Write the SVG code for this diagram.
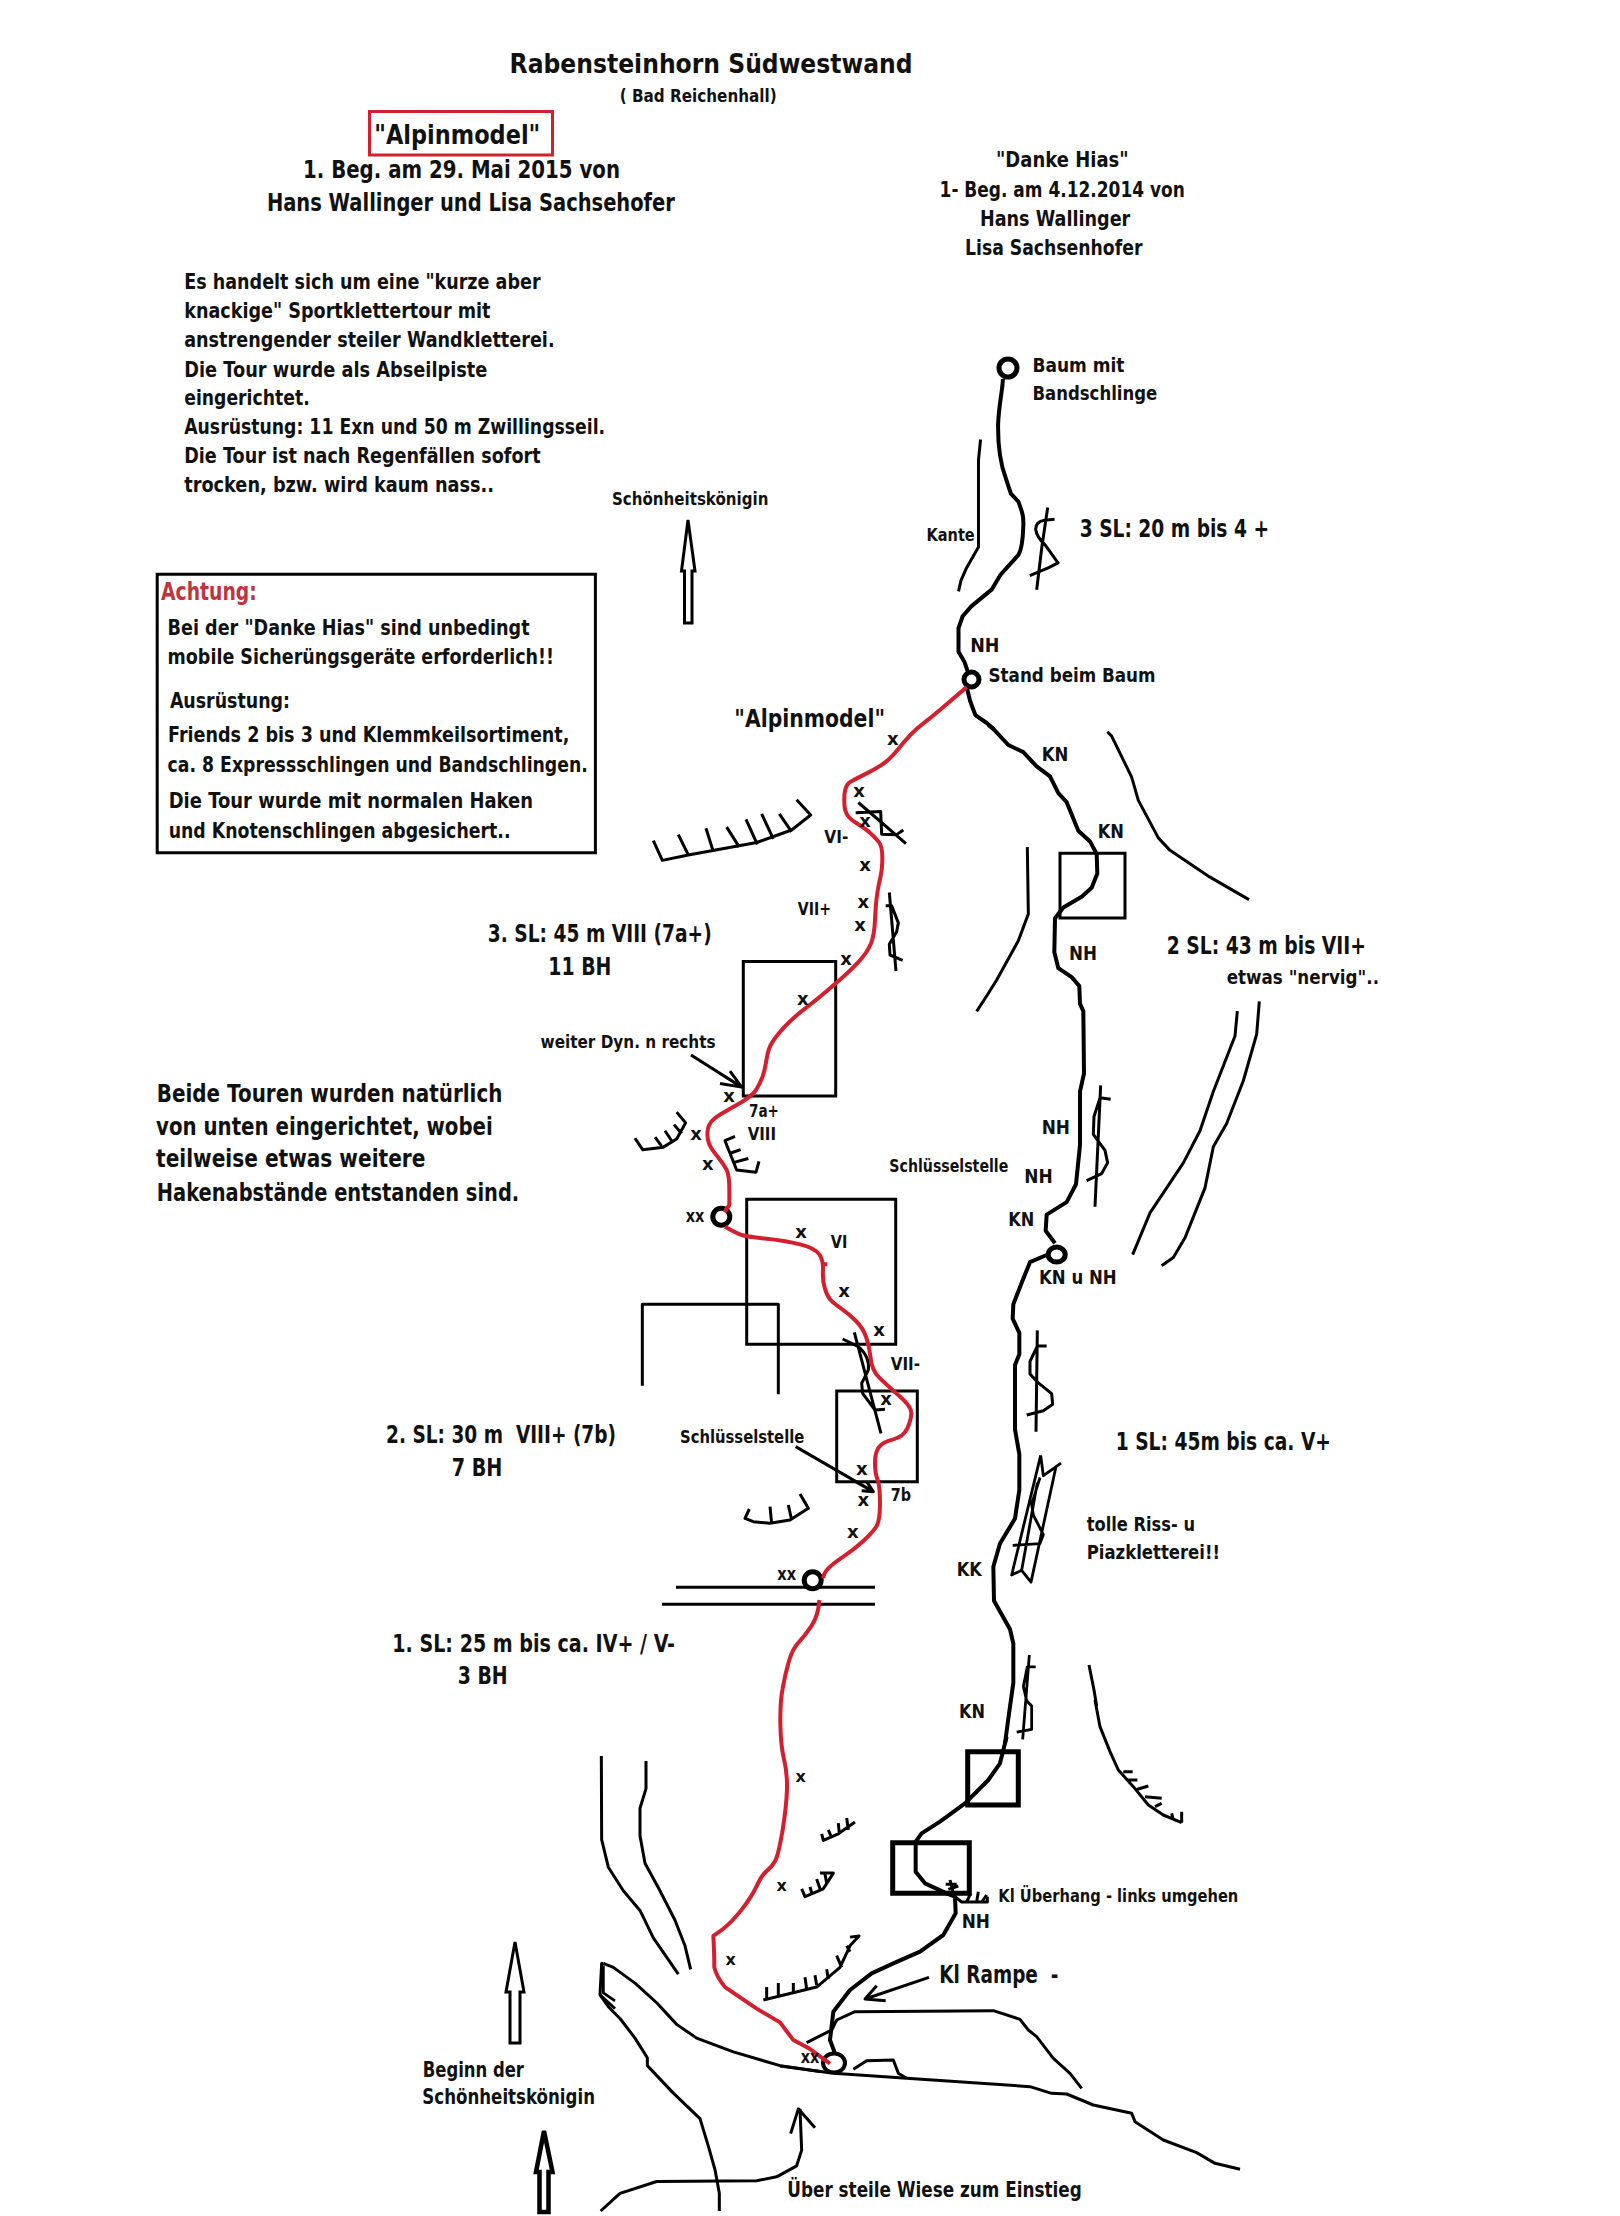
<svg xmlns="http://www.w3.org/2000/svg" width="1620" height="2216" viewBox="0 0 1620 2216">
<style>
path,circle,rect,ellipse,polygon{vector-effect:non-scaling-stroke}
path{fill:none;stroke:#000;stroke-linejoin:round;stroke-linecap:butt}
.r{stroke-width:4}
.t{stroke-width:3}
.f{stroke-width:2.8}
.red{stroke:#d4202e;stroke-width:4}
.box{fill:none;stroke:#000;stroke-width:3}
.heavy{fill:none;stroke:#000;stroke-width:5}
.ring{fill:#fff;stroke:#000;stroke-width:5}
.arw{fill:#fff;stroke:#000;stroke-width:3}
text{font-family:"DejaVu Sans","Liberation Sans",sans-serif;font-weight:700;fill:#111}
.s16{font-size:16px}.s18{font-size:18px}.s20{font-size:20px}.s21{font-size:21px}.s24{font-size:24px}.s26{font-size:26px}
</style>
<rect width="1620" height="2216" fill="#fff"/>

<g id="rock-features">
<g transform="matrix(.33333 0 0 .35714 620 680)">
<path class="t" d="M100,450 L127,505 L205,490 L410,455 L515,420 L572,378 L530,335 M175,433 L205,490 M258,415 L278,475 M320,412 L358,468 M378,390 L412,460 M425,375 L460,445 M478,375 L515,425"/>
<path class="t" d="M715,343 L858,458 M707,372 L782,368 L785,432 L830,433 L850,420"/>
<path class="t" d="M808,595 L828,815 M797,632 L815,632 L835,680 L830,705 L808,740 L810,770 L848,785"/>
<path class="t" d="M45,1283 L68,1315 L130,1308 L170,1285 L197,1240 L170,1210 M105,1280 L125,1305 M135,1262 L155,1290 M162,1245 L185,1270"/>
<path class="t" d="M345,1278 L315,1290 L350,1372 L408,1378 L417,1348 M330,1325 L362,1315 M345,1350 L385,1340"/>
<path class="t" d="M1222,468 L1225,655 L1195,730 L1130,840 L1100,885 L1070,928"/>
</g>
<g transform="matrix(.34435 0 0 .39541 880 120)">
<path class="t" d="M292,808 L286,860 L286,1080 L250,1135 L235,1165 L228,1192"/>
<path class="t" d="M487,980 L470,1080 L455,1188 M507,1010 L478,1012 Q452,1015 452,1035 Q455,1055 480,1075 L517,1120 L490,1132 L435,1152"/>
</g>
<g transform="matrix(.33333 0 0 .35714 950 720)">
<path class="t" d="M472,33 L485,45 L545,160 L565,225 L625,330 L660,365 L780,440 L897,503"/>
<path class="t" d="M862,815 L855,885 L790,1040 L750,1150 L700,1240 L650,1310 L600,1380 L548,1497"/>
<path class="t" d="M928,788 L920,880 L880,1010 L830,1130 L790,1195 L765,1310 L705,1450 L670,1505 L635,1528"/>
<path class="t" d="M452,1023 L435,1363 M482,1062 L450,1058 L432,1110 L430,1160 L465,1205 L473,1240 L455,1270 L410,1290"/>
</g>
<g transform="matrix(.33333 0 0 .35714 950 1240)">
<path class="t" d="M262,253 L258,537 M290,297 L262,297 L240,340 L240,375 L265,400 L305,430 L308,460 L280,478 L230,490"/>
<path class="f" d="M272,603 L185,938 L215,925 L243,958 L318,635 L280,660 L272,603 M333,625 L280,660 M270,665 L245,740 L250,770 L280,825 L270,850 L188,855 M262,680 L215,925"/>
<path class="f" d="M238,1162 L218,1398 M257,1195 L232,1195 L220,1250 L230,1290 L245,1305 L245,1370 L200,1378"/>
<path class="t" d="M417,1190 L432,1260 L440,1305"/>
</g>
<g transform="matrix(.33333 0 0 .33333 620 1180)">
<path class="t" d="M67,617 L67,373 L475,373 L475,643"/>
<path class="t" d="M168,1222 L765,1222 M126,1273 L765,1273"/>
<path class="t" d="M388,987 L375,1015 L400,1025 L450,1030 L510,1020 L565,985 L540,942 M450,980 L455,1030 M505,975 L515,1020"/>
<path class="t" d="M668,477 L715,500 Q750,530 745,570 L725,610 L728,640 L765,690 L795,688 M703,457 L783,760"/>
</g>
<g transform="matrix(.33333 0 0 .39293 560 1600)">
<path class="t" d="M124,397 L125,610 L145,680 L190,740 L240,790 L280,860 L355,952"/>
<path class="t" d="M258,410 L258,480 L240,530 L240,600 L255,670 L300,740 L345,815 L375,880 L392,940"/>
<path class="t" d="M130,925 L125,925 L120,1005 L145,1035 L180,1065 L225,1115 L262,1165 L262,1185 L340,1255 L420,1320 L445,1390 L465,1450 L478,1510 L478,1555"/>
<path class="t" d="M130,925 L160,935 L225,975 L290,1025 L350,1080 L410,1115 L520,1150 L660,1185 L780,1200"/>
<path class="f" d="M130,930 L130,1000 L165,1020 M120,1005 L165,1040"/>
<path class="t" d="M122,1555 L180,1510 L290,1480 L590,1478 L650,1468 L710,1440 L725,1400 L720,1295 M692,1358 L715,1295 L765,1343"/>
<path class="t" d="M610,1018 L770,985 L840,935 L870,880 L897,855 L870,858 M620,985 L620,1018 M655,975 L655,1010 M700,975 L700,1000 M735,960 L740,990 M765,955 L770,980 M800,940 L805,965 M830,905 L845,935 M860,880 L870,895"/>
<path class="t" d="M785,595 L790,612 L835,595 L885,565 M805,585 L815,605 M835,568 L838,595 M860,555 L865,585"/>
<path class="t" d="M725,735 L735,755 L790,735 L820,695 L780,695 M750,730 L755,745 M770,710 L780,735 M795,698 L800,720"/>
</g>
<g transform="matrix(.33333 0 0 .33333 780 1700)">
<path class="t" d="M945,0 L960,80 L990,155 L1015,210 L1060,260 L1105,315 L1150,345 L1205,368 M1030,215 L1058,215 M1040,240 L1072,240 M1065,270 L1105,258 M1095,290 L1145,295 M1125,320 L1145,310 M1175,340 L1180,360 M1205,335 L1205,368"/>
<path class="t" d="M497,553 L530,553 M510,540 L520,580 M505,568 L535,558 M525,590 L545,606 L622,606 L622,590 M560,606 L572,580 M590,606 L595,575 M605,606 L620,585"/>
<path class="t" d="M80,1028 L155,990 L170,960 L225,935 L640,932 L720,958 L745,990 L770,1010 L820,1075 L870,1120 L905,1165"/>
<path class="t" d="M0,1098 L160,1120 L380,1135 L750,1160 L815,1180 L860,1182 L940,1215 L1055,1240 L1065,1265 L1150,1320 L1250,1358 L1305,1390 L1380,1408"/>
<path class="t" d="M220,1108 L260,1082 L340,1080 L355,1120 L380,1135"/>
</g>
<rect class="box" x="743.3" y="961.4" width="92.4" height="134.6"/>
<rect class="box" x="1060" y="853.2" width="65" height="64.8"/>
<rect class="box" x="746.7" y="1199.3" width="149" height="145"/>
<rect class="box" x="836.7" y="1391" width="80.6" height="90.7"/>
<rect class="heavy" x="967.7" y="1751.7" width="50.6" height="53.3"/>
<rect class="heavy" x="892.7" y="1842.7" width="76.6" height="50.6"/>
</g>

<g id="callouts">
<g transform="matrix(.33333 0 0 .35714 620 680)"><path class="t" d="M213,1050 L365,1140 M330,1095 L365,1140 L300,1130"/></g>
<g transform="matrix(.33333 0 0 .33333 620 1180)"><path class="t" d="M527,800 L760,935 M695,898 L760,935 L725,932 M740,905 L760,935"/></g>
<g transform="matrix(.33333 0 0 .33333 780 1700)"><path class="t" d="M447,832 L255,897 L317,902 M255,897 L290,857"/></g>
<polygon class="arw" points="688,520 681.5,571 684.5,571 684.5,623 692,623 692,571 695,571"/>
<polygon class="arw" points="515,1942 506,1992 510,1992 510,2043 520,2043 520,1992 524,1992"/>
<polygon class="arw" style="stroke-width:4.5" points="544,2131 536,2172 539.5,2172 539.5,2212 548.5,2212 548.5,2172 552.5,2172"/>
</g>

<g id="connectors">
<g id="route-danke-hias">
<g transform="matrix(.34435 0 0 .39541 880 120)"><path class="r" d="M357,655 C355,690 345,720 343,770 C342,830 350,870 365,905 L380,945 L402,965 C412,990 418,1000 416,1030 C415,1060 412,1085 402,1100 L350,1150 L325,1187 L265,1230 L240,1255 L228,1285 L228,1345 L245,1370 L255,1395"/><path class="r" d="M252,1435 L262,1470 L277,1505 L310,1525 L330,1540"/></g>
<g transform="matrix(.33333 0 0 .35714 950 720)"><path class="r" d="M115,14 L130,25 L175,70 L220,90 L260,130 L300,158 L325,205 L350,230 L385,310 L420,340 L440,375 L442,430 L425,470 L395,495 L340,525 L315,555 L313,650 L325,695 L365,720 L388,745 L390,795 L400,815 L402,990 L390,1040 L390,1190 L378,1300 L350,1350 L290,1385 L287,1430 L315,1465"/></g>
<g transform="matrix(.33333 0 0 .35714 950 1240)"><path class="r" d="M290,42 L240,62 L215,120 L190,180 L188,220 L208,260 L208,320 L195,350 L195,530 L208,600 L208,700 L195,780 L150,850 L130,915 L132,1010 L180,1090 L190,1130 L190,1240 L175,1340 L165,1410"/></g>
<g transform="matrix(.33333 0 0 .33333 780 1700)"><path class="r" d="M680,110 L660,190 L625,240 L555,310 L480,365 L425,400 L407,425 L407,515 L435,550 L500,580 L525,590 L527,640 L490,705 L420,755 L340,790 L275,820 L210,870 L160,935 L150,1020 L165,1060"/></g>
</g>
</g>

<g id="node-baum"><circle class="ring" cx="1008" cy="368" r="9"/></g>
<g id="node-stand"><circle class="ring" cx="971.5" cy="679.5" r="7.5"/></g>
<g id="node-kn-nh"><ellipse class="ring" cx="1056.7" cy="1254.6" rx="8.5" ry="7.5"/></g>
<g id="node-xx-3"><circle class="ring" cx="721.3" cy="1216.7" r="8.5"/></g>
<g id="node-xx-2"><circle class="ring" cx="812.7" cy="1580.3" r="8.5"/></g>
<g id="node-einstieg"><ellipse fill="none" stroke="#000" stroke-width="4" cx="834" cy="2063" rx="11" ry="9.5"/></g>

<g id="route-alpinmodel">
<g transform="matrix(.33333 0 0 .35714 620 680)"><path class="red" d="M1040,20 Q990,60 965,80 Q940,100 915,118 Q890,135 870,155 Q850,175 835,193 Q820,210 803,225 Q785,240 743,260 Q700,280 690,286 Q680,292 676,306 Q672,320 673,343 Q673,365 682,378 Q690,390 710,401 Q730,412 748,426 Q765,440 776,453 Q787,465 787,498 Q787,530 781,553 Q775,575 771,603 Q767,630 765,673 Q763,715 752,740 Q740,765 715,790 Q690,815 665,835 Q640,855 615,875 Q590,895 555,920 Q520,945 495,970 Q470,995 458,1013 Q445,1030 440,1060 Q435,1090 428,1110 Q420,1130 408,1148 Q395,1165 368,1180 Q340,1195 303,1215 Q265,1235 263,1260 Q260,1285 268,1300 Q275,1315 293,1335 Q310,1355 319,1370 Q328,1385 328,1428 L328,1470 L313,1490"/></g>
<g transform="matrix(.33333 0 0 .33333 620 1180)"><path class="red" d="M315,140 Q350,160 365,165 Q380,170 440,176 Q500,182 543,194 Q585,205 598,223 Q610,240 609,270 Q607,300 614,323 Q620,345 630,358 Q640,370 663,385 Q685,400 708,423 Q730,445 739,473 Q748,500 752,535 Q755,570 778,593 Q800,615 838,648 Q875,680 874,700 Q873,720 862,745 Q850,770 820,778 Q790,785 778,800 Q765,815 765,848 Q765,880 773,900 Q780,920 780,970 Q780,1020 770,1038 Q760,1055 730,1083 Q700,1110 670,1130 Q640,1150 625,1165 Q610,1180 610,1195 M607,253 L622,253"/></g>
<g transform="matrix(.33333 0 0 .39293 560 1600)"><path class="red" d="M778,0 Q775,40 755,65 Q735,90 716,108 Q697,125 686,158 Q675,190 668,225 Q660,260 661,315 Q662,370 672,405 Q682,440 681,480 Q680,520 668,585 Q655,650 645,665 Q635,680 620,690 Q605,700 590,728 Q575,755 545,788 Q515,820 488,838 L460,855 Q463,900 463,935 Q470,960 495,985 L590,1040 L660,1075 L700,1120 L745,1140 L810,1180"/></g>
</g>

<g id="labels">
<text class="s26" x="509.6" y="72.7" textLength="403" lengthAdjust="spacingAndGlyphs">Rabensteinhorn Südwestwand</text>
<text class="s18" x="619.7" y="102.3" textLength="157" lengthAdjust="spacingAndGlyphs">( Bad Reichenhall)</text>
<g id="node-alpinmodel-title"><rect x="369.5" y="111.5" width="183" height="43.5" fill="none" stroke="#d4202e" stroke-width="3"/>
<text class="s26" x="374.3" y="144" textLength="166" lengthAdjust="spacingAndGlyphs">"Alpinmodel"</text></g>
<text class="s24" x="303" y="177.7" textLength="317" lengthAdjust="spacingAndGlyphs">1. Beg. am 29. Mai 2015 von</text>
<text class="s24" x="266.9" y="210.7" textLength="408" lengthAdjust="spacingAndGlyphs">Hans Wallinger und Lisa Sachsehofer</text>

<text class="s21" x="184.2" y="289.3" textLength="356.4" lengthAdjust="spacingAndGlyphs">Es handelt sich um eine "kurze aber</text>
<text class="s21" x="184.2" y="318.3" textLength="306.3" lengthAdjust="spacingAndGlyphs">knackige" Sportklettertour mit</text>
<text class="s21" x="184.2" y="347.3" textLength="370.4" lengthAdjust="spacingAndGlyphs">anstrengender steiler Wandkletterei.</text>
<text class="s21" x="184.2" y="376.7" textLength="303.2" lengthAdjust="spacingAndGlyphs">Die Tour wurde als Abseilpiste</text>
<text class="s21" x="184.2" y="405" textLength="125.5" lengthAdjust="spacingAndGlyphs">eingerichtet.</text>
<text class="s21" x="184.2" y="434" textLength="421" lengthAdjust="spacingAndGlyphs">Ausrüstung: 11 Exn und 50 m Zwillingsseil.</text>
<text class="s21" x="184.2" y="463.3" textLength="356.4" lengthAdjust="spacingAndGlyphs">Die Tour ist nach Regenfällen sofort</text>
<text class="s21" x="184.2" y="492.3" textLength="309.9" lengthAdjust="spacingAndGlyphs">trocken, bzw. wird kaum nass..</text>
<text class="s18" x="612" y="505" textLength="156.4" lengthAdjust="spacingAndGlyphs">Schönheitskönigin</text>

<text class="s21" x="996" y="166.7" textLength="132.6" lengthAdjust="spacingAndGlyphs">"Danke Hias"</text>
<text class="s21" x="939.6" y="197.1" textLength="245.2" lengthAdjust="spacingAndGlyphs">1- Beg. am 4.12.2014 von</text>
<text class="s21" x="979.9" y="226" textLength="150.4" lengthAdjust="spacingAndGlyphs">Hans Wallinger</text>
<text class="s21" x="965" y="254.8" textLength="177.4" lengthAdjust="spacingAndGlyphs">Lisa Sachsenhofer</text>
<text class="s20" x="1032.5" y="372.3" textLength="92" lengthAdjust="spacingAndGlyphs">Baum mit</text>
<text class="s20" x="1032.5" y="400" textLength="124.7" lengthAdjust="spacingAndGlyphs">Bandschlinge</text>
<text class="s24" x="1079.7" y="537.2" textLength="189.3" lengthAdjust="spacingAndGlyphs">3 SL: 20 m bis 4 +</text>
<text class="s18" x="926.5" y="541.1" textLength="48.2" lengthAdjust="spacingAndGlyphs">Kante</text>
<text class="s20" x="970.2" y="651.8" textLength="29.3" lengthAdjust="spacingAndGlyphs">NH</text>
<text class="s20" x="988.5" y="681.5" textLength="167" lengthAdjust="spacingAndGlyphs">Stand beim Baum</text>

<g id="achtung-box">
<rect x="157.2" y="574.3" width="438.2" height="278.4" fill="none" stroke="#000" stroke-width="3"/>
<text class="s24" style="fill:#c1343e" x="161" y="600" textLength="95.7" lengthAdjust="spacingAndGlyphs">Achtung:</text>
<text class="s21" x="167.6" y="635" textLength="362" lengthAdjust="spacingAndGlyphs">Bei der "Danke Hias" sind unbedingt</text>
<text class="s21" x="167.6" y="664" textLength="386.4" lengthAdjust="spacingAndGlyphs">mobile Sicherüngsgeräte erforderlich!!</text>
<text class="s21" x="169.9" y="708.3" textLength="120.1" lengthAdjust="spacingAndGlyphs">Ausrüstung:</text>
<text class="s21" x="168" y="742.3" textLength="401.4" lengthAdjust="spacingAndGlyphs">Friends 2 bis 3 und Klemmkeilsortiment,</text>
<text class="s21" x="167.6" y="771.7" textLength="420.2" lengthAdjust="spacingAndGlyphs">ca. 8 Expressschlingen und Bandschlingen.</text>
<text class="s21" x="168.7" y="808.3" textLength="364.3" lengthAdjust="spacingAndGlyphs">Die Tour wurde mit normalen Haken</text>
<text class="s21" x="168.7" y="837.7" textLength="341.8" lengthAdjust="spacingAndGlyphs">und Knotenschlingen abgesichert..</text>
</g>

<text class="s24" x="734.3" y="727" textLength="150.7" lengthAdjust="spacingAndGlyphs">"Alpinmodel"</text>
<text class="s20" x="1041.7" y="761" textLength="26.6" lengthAdjust="spacingAndGlyphs">KN</text>
<text class="s20" x="1097.7" y="837.9" textLength="26.3" lengthAdjust="spacingAndGlyphs">KN</text>
<text class="s18" x="824.3" y="842.5" textLength="24" lengthAdjust="spacingAndGlyphs">VI-</text>
<text class="s18" x="797.7" y="914.6" textLength="33.3" lengthAdjust="spacingAndGlyphs">VII+</text>
<text class="s20" x="1069" y="960.4" textLength="28" lengthAdjust="spacingAndGlyphs">NH</text>
<text class="s24" x="1166.7" y="953.9" textLength="199.3" lengthAdjust="spacingAndGlyphs">2 SL: 43 m bis VII+</text>
<text class="s20" x="1226.7" y="983.6" textLength="152.3" lengthAdjust="spacingAndGlyphs">etwas "nervig"..</text>
<text class="s24" x="487.8" y="941.7" textLength="223.9" lengthAdjust="spacingAndGlyphs">3. SL: 45 m VIII (7a+)</text>
<text class="s24" x="548.3" y="975" textLength="63.1" lengthAdjust="spacingAndGlyphs">11 BH</text>
<text class="s18" x="540.6" y="1048.3" textLength="174.9" lengthAdjust="spacingAndGlyphs">weiter Dyn. n rechts</text>
<text class="s18" x="749" y="1116.8" textLength="30" lengthAdjust="spacingAndGlyphs">7a+</text>
<text class="s18" x="747.7" y="1140" textLength="28.3" lengthAdjust="spacingAndGlyphs">VIII</text>
<text class="s24" x="156.8" y="1101.7" textLength="345.6" lengthAdjust="spacingAndGlyphs">Beide Touren wurden natürlich</text>
<text class="s24" x="156" y="1135" textLength="336.8" lengthAdjust="spacingAndGlyphs">von unten eingerichtet, wobei</text>
<text class="s24" x="156" y="1167.3" textLength="269.4" lengthAdjust="spacingAndGlyphs">teilweise etwas weitere</text>
<text class="s24" x="156.8" y="1200.7" textLength="362.4" lengthAdjust="spacingAndGlyphs">Hakenabstände entstanden sind.</text>
<text class="s18" x="889.3" y="1172" textLength="119" lengthAdjust="spacingAndGlyphs">Schlüsselstelle</text>
<text class="s20" x="1041.7" y="1133.6" textLength="28.3" lengthAdjust="spacingAndGlyphs">NH</text>
<text class="s20" x="1024.3" y="1182.9" textLength="28.4" lengthAdjust="spacingAndGlyphs">NH</text>
<text class="s20" x="1008.3" y="1226.4" textLength="26" lengthAdjust="spacingAndGlyphs">KN</text>
<text class="s20" x="1039" y="1283.6" textLength="77.7" lengthAdjust="spacingAndGlyphs">KN u NH</text>
<text class="s24" x="1115.7" y="1449.6" textLength="215.3" lengthAdjust="spacingAndGlyphs">1 SL: 45m bis ca. V+</text>
<text class="s20" x="1086.7" y="1531" textLength="108.3" lengthAdjust="spacingAndGlyphs">tolle Riss- u</text>
<text class="s20" x="1086.7" y="1559" textLength="133.3" lengthAdjust="spacingAndGlyphs">Piazkletterei!!</text>
<text class="s20" x="956.7" y="1575.7" textLength="25" lengthAdjust="spacingAndGlyphs">KK</text>
<text class="s20" x="959" y="1717.5" textLength="26" lengthAdjust="spacingAndGlyphs">KN</text>
<text class="s18" x="830.7" y="1248.3" textLength="16.6" lengthAdjust="spacingAndGlyphs">VI</text>
<text class="s18" x="890.7" y="1370" textLength="29.3" lengthAdjust="spacingAndGlyphs">VII-</text>
<text class="s18" x="680" y="1443.3" textLength="124.3" lengthAdjust="spacingAndGlyphs">Schlüsselstelle</text>
<text class="s18" x="890.7" y="1500.7" textLength="20.3" lengthAdjust="spacingAndGlyphs">7b</text>
<text class="s24" x="386" y="1443.3" textLength="230" lengthAdjust="spacingAndGlyphs" xml:space="preserve">2. SL: 30 m  VIII+ (7b)</text>
<text class="s24" x="451.7" y="1476" textLength="50.6" lengthAdjust="spacingAndGlyphs">7 BH</text>
<text class="s24" x="392.3" y="1651.7" textLength="282.7" lengthAdjust="spacingAndGlyphs">1. SL: 25 m bis ca. IV+ / V-</text>
<text class="s24" x="457.7" y="1684" textLength="50" lengthAdjust="spacingAndGlyphs">3 BH</text>
<text class="s18" x="998.3" y="1901.7" textLength="240" lengthAdjust="spacingAndGlyphs">Kl Überhang - links umgehen</text>
<text class="s20" x="961.7" y="1928.3" textLength="28.3" lengthAdjust="spacingAndGlyphs">NH</text>
<text class="s24" x="939.3" y="1983.3" textLength="119" lengthAdjust="spacingAndGlyphs" xml:space="preserve">Kl Rampe  -</text>
<text class="s21" x="787.3" y="2197.3" textLength="294.4" lengthAdjust="spacingAndGlyphs">Über steile Wiese zum Einstieg</text>
<text class="s21" x="422.7" y="2076.7" textLength="101.3" lengthAdjust="spacingAndGlyphs">Beginn der</text>
<text class="s21" x="422.3" y="2104.3" textLength="172.7" lengthAdjust="spacingAndGlyphs">Schönheitskönigin</text>

<g id="bolts" text-anchor="middle">
<text class="s18" x="892.7" y="745">x</text><text class="s18" x="859" y="797">x</text><text class="s18" x="865" y="827">x</text><text class="s18" x="865" y="871">x</text><text class="s18" x="863.3" y="908">x</text><text class="s18" x="860" y="931">x</text><text class="s18" x="846" y="965">x</text><text class="s18" x="802.7" y="1005">x</text><text class="s18" x="729" y="1102">x</text><text class="s18" x="696" y="1140">x</text><text class="s18" x="707.7" y="1170">x</text>
<text class="s18" x="801" y="1238">x</text><text class="s18" x="844" y="1297">x</text><text class="s18" x="879" y="1336">x</text><text class="s18" x="886" y="1405">x</text><text class="s18" x="861.7" y="1475">x</text><text class="s18" x="863.3" y="1506">x</text><text class="s18" x="852.7" y="1538">x</text>
<text class="s16" x="800.7" y="1782">x</text><text class="s16" x="781.7" y="1891">x</text><text class="s16" x="730.7" y="1965">x</text>
</g>
<text class="s18" x="685.7" y="1222" textLength="18.6" lengthAdjust="spacingAndGlyphs">xx</text>
<text class="s18" x="777.3" y="1580" textLength="18.7" lengthAdjust="spacingAndGlyphs">xx</text>
<text class="s18" x="800.7" y="2062.9" textLength="18.6" lengthAdjust="spacingAndGlyphs">xx</text>
</g>
</svg>
